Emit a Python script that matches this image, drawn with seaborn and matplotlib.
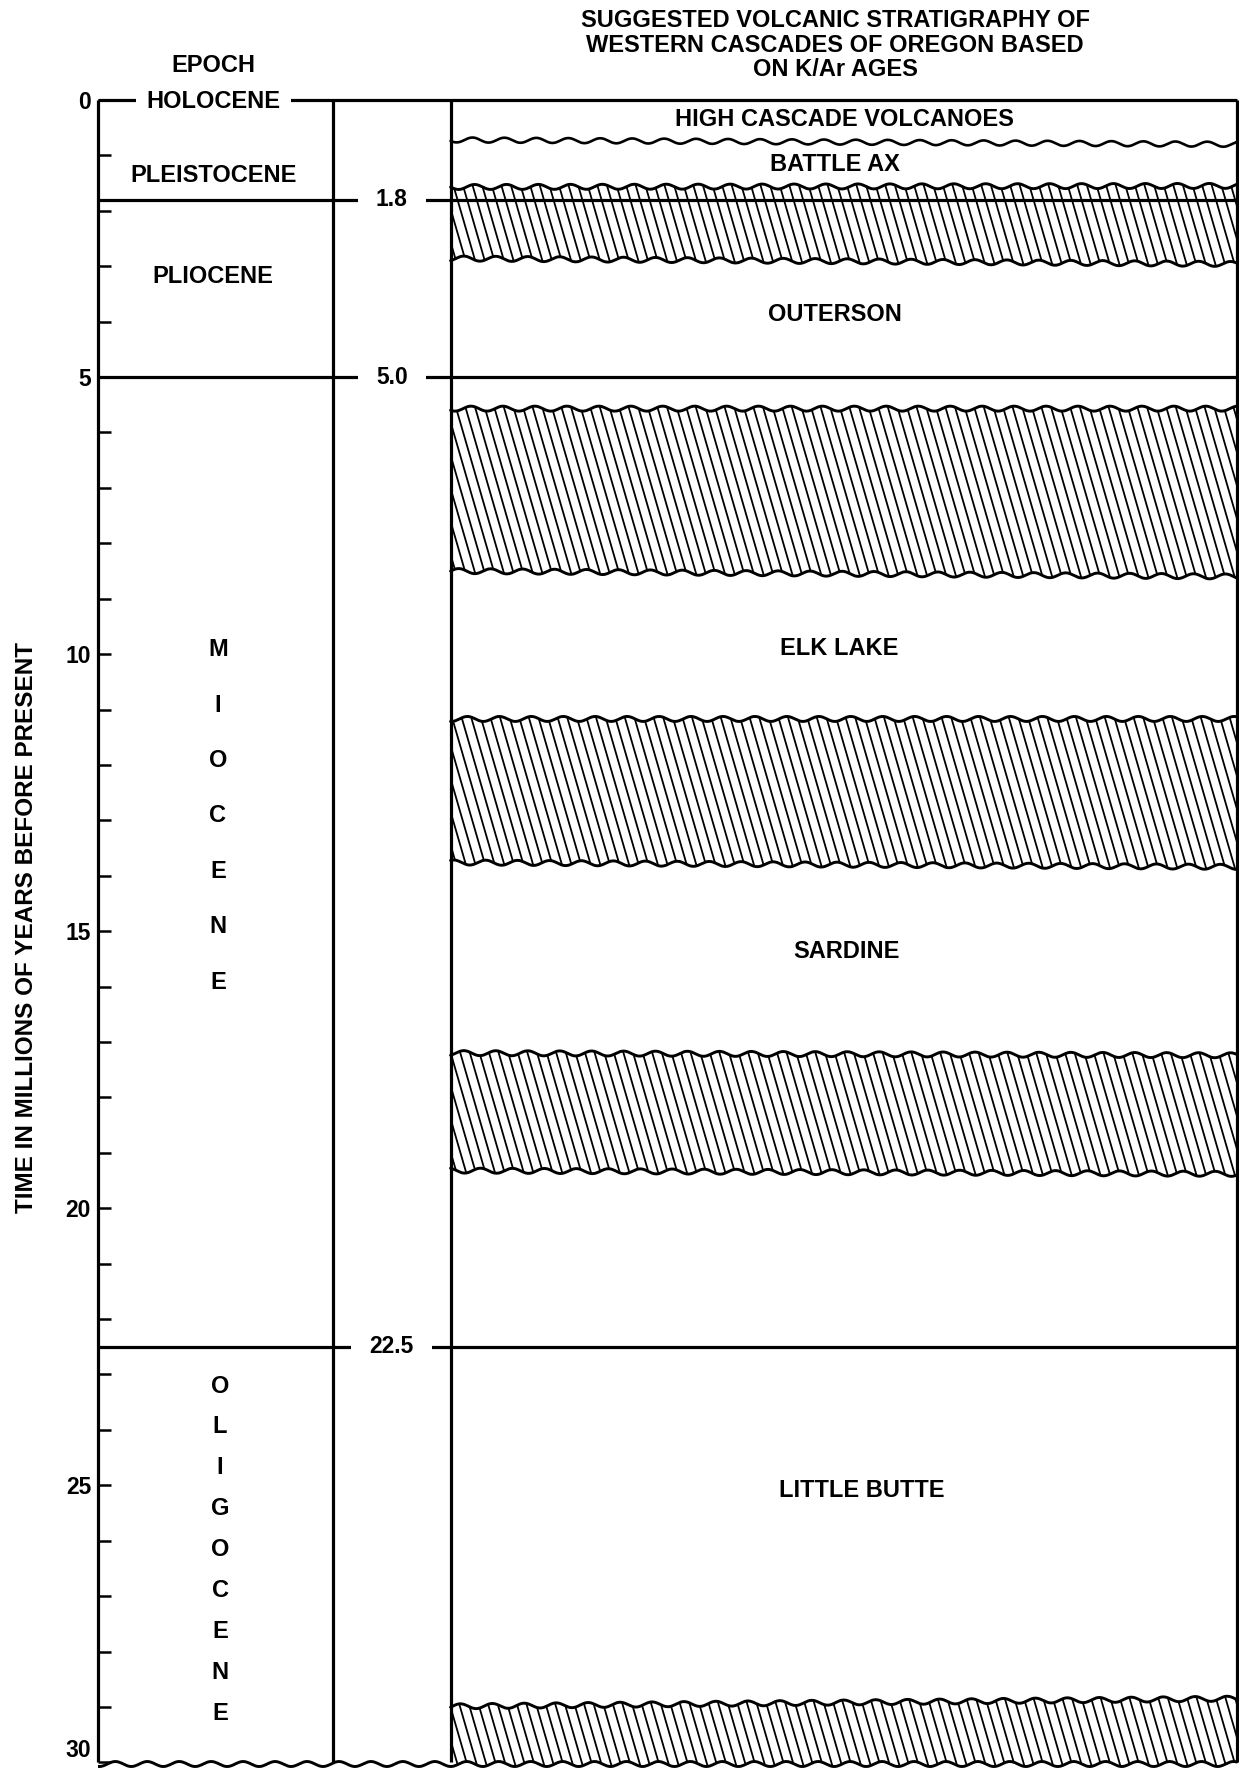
import numpy as np
import seaborn as sns
import matplotlib.pyplot as plt
from matplotlib.collections import LineCollection
from matplotlib.patches import Polygon

# --- time scale (millions of years before present) ---
epoch_names = ['HOLOCENE', 'PLEISTOCENE', 'PLIOCENE']
epoch_label_ages = [0.03, 1.37, 3.19]
epoch_boundaries = [1.8, 5.0, 22.5]
boundary_labels = ['1.8', '5.0', '22.5']
miocene_letters = list('MIOCENE')
oligocene_letters = list('OLIGOCENE')
time_ticks = [0, 5, 10, 15, 20, 25, 30]

# --- volcanic units (Western Cascades, K/Ar ages) ---
unit_names = ['HIGH CASCADE VOLCANOES', 'BATTLE AX', 'OUTERSON',
              'ELK LAKE', 'SARDINE', 'LITTLE BUTTE']
unit_label_ages = [0.36, 1.16, 3.88, 9.89, 15.36, 25.1]

# unconformity below the High Cascade volcanoes (west / east edge)
contact_west = 0.72
contact_east = 0.80

# hatched intervals between the units
band_top_west = [1.57, 5.57, 11.17, 17.20, 28.99]
band_top_east = [1.55, 5.57, 11.17, 17.24, 28.85]
band_bot_west = [2.86, 8.50, 13.76, 19.32, 30.0]
band_bot_east = [2.96, 8.60, 13.84, 19.38, 30.0]

# layout (axes fraction along x)
col1_right = 0.206
col2_right = 0.309
right_edge = 0.998
epoch_x = 0.101
unit_label_x = [0.654, 0.646, 0.646, 0.650, 0.656, 0.669]

sns.set_style('ticks')
plt.rcParams['font.family'] = ['Liberation Sans', 'DejaVu Sans']
plt.rcParams['font.weight'] = 'bold'
plt.rcParams['text.color'] = 'black'
plt.rcParams['axes.labelcolor'] = 'black'
plt.rcParams['ytick.color'] = 'black'
plt.rcParams['ytick.labelcolor'] = 'black'

fig = plt.figure(figsize=(12.39, 17.69), dpi=100)
ax = fig.add_axes([98 / 1239, 0.0, 1141 / 1239, 1 - 100 / 1769])


def wavy(y_west, y_east, x0, x1, amp=0.045, wavelength=0.028, phase=0.0):
    x = np.linspace(x0, x1, 900)
    base = y_west + (y_east - y_west) * (x - x0) / (x1 - x0)
    return x, base + amp * np.sin(2 * np.pi * (x - x0) / wavelength + phase)


# hatched bands: white polygon, clipped hatch lines, wavy outlines
slope = 0.29 * 55.4 / 1141     # x shift per Ma of the hatch lines
spacing = 9.6 / 1141
for i in range(len(band_top_west)):
    xt, yt = wavy(band_top_west[i], band_top_east[i], col2_right, right_edge, phase=0.7 * i)
    if band_bot_west[i] >= 30:
        xb, yb = wavy(30.03, 30.03, col2_right, right_edge, phase=1.3)
    else:
        xb, yb = wavy(band_bot_west[i], band_bot_east[i], col2_right, right_edge, phase=2.1 + i)
    poly = Polygon(np.column_stack([np.r_[xt, xb[::-1]], np.r_[yt, yb[::-1]]]),
                   closed=True, facecolor='white', edgecolor='none', zorder=1)
    ax.add_patch(poly)
    top = min(band_top_west[i], band_top_east[i]) - 0.2
    bot = max(band_bot_west[i], band_bot_east[i]) + 0.2
    starts = np.arange(col2_right - slope * (bot - top), right_edge + spacing, spacing)
    segs = [[(s, top), (s + slope * (bot - top), bot)] for s in starts]
    hatch = LineCollection(segs, colors='black', linewidths=1.3, zorder=1.5)
    ax.add_collection(hatch)
    hatch.set_clip_path(poly)
    sns.lineplot(x=xt, y=yt, sort=False, estimator=None, color='black', linewidth=2.1, ax=ax)
    if band_bot_west[i] < 30:
        sns.lineplot(x=xb, y=yb, sort=False, estimator=None, color='black', linewidth=2.1, ax=ax)

# wavy contact below High Cascade volcanoes
xc, yc = wavy(contact_west, contact_east, col2_right, right_edge, phase=0.4)
sns.lineplot(x=xc, y=yc, sort=False, estimator=None, color='black', linewidth=1.9, ax=ax)

# wavy base of the section
xw, yw = wavy(30.03, 30.03, 0.0, right_edge, phase=1.3)
sns.lineplot(x=xw, y=yw, sort=False, estimator=None, color='black', linewidth=2.1, ax=ax)

# frame: left time axis, column dividers, right border, top line
ax.vlines([0.0, col1_right, col2_right, right_edge], 0, 30, colors='black',
          linewidth=2.3, clip_on=False, zorder=2.5)
ax.hlines(0, 0, right_edge, colors='black', linewidth=2.3, clip_on=False, zorder=2)
ax.hlines(epoch_boundaries, 0, right_edge, colors='black', linewidth=2.3, zorder=2)

# boundary ages in the middle column
for age, lab in zip(epoch_boundaries, boundary_labels):
    ax.text((col1_right + col2_right) / 2, age, lab, ha='center', va='center', fontsize=16.5,
            bbox=dict(boxstyle='square,pad=0.8', facecolor='white', edgecolor='none'), zorder=3)

# epoch names
ax.text(epoch_x, -0.63, 'EPOCH', ha='center', va='center', fontsize=17, clip_on=False)
for name, age in zip(epoch_names, epoch_label_ages):
    ax.text(epoch_x, age, name, ha='center', va='center', fontsize=17, clip_on=False,
            bbox=dict(boxstyle='square,pad=0.45', facecolor='white', edgecolor='none'), zorder=3)
for k, ch in enumerate(miocene_letters):
    ax.text(epoch_x + 0.004, 9.92 + 1.0 * k, ch, ha='center', va='center', fontsize=17)
for k, ch in enumerate(oligocene_letters):
    ax.text(epoch_x + 0.006, 23.21 + 0.7375 * k, ch, ha='center', va='center', fontsize=17)

# unit names
for name, age, x in zip(unit_names, unit_label_ages, unit_label_x):
    ax.text(x, age, name, ha='center', va='center', fontsize=17)

# title above the stratigraphy column
ax.text(0.646, -0.99, 'SUGGESTED VOLCANIC STRATIGRAPHY OF\nWESTERN CASCADES OF OREGON BASED\nON K/Ar AGES',
        ha='center', va='center', fontsize=17, linespacing=1.1, clip_on=False)

# time axis
ax.set_xlim(0, 1)
ax.set_ylim(30.12, 0)
ax.set_yticks(time_ticks)
ax.set_yticks(range(0, 31), minor=True)
tick_texts = ax.set_yticklabels([str(t) for t in time_ticks])
tick_texts[-1].set_va('bottom')
ax.set_xticks([])
ax.tick_params(axis='y', which='both', direction='in', left=True, length=9.5, width=1.8,
               labelsize=16.5, pad=5, color='black', labelcolor='black')
ax.set_xlabel('')
ax.set_ylabel('TIME IN MILLIONS OF YEARS BEFORE PRESENT', fontsize=17.5, fontweight='bold',
              color='black')
ax.yaxis.set_label_coords(-0.0526, 0.504)
for sp in ax.spines.values():
    sp.set_visible(False)
ax.set_facecolor('white')

fig.savefig('out.png', dpi=100, facecolor='white')
